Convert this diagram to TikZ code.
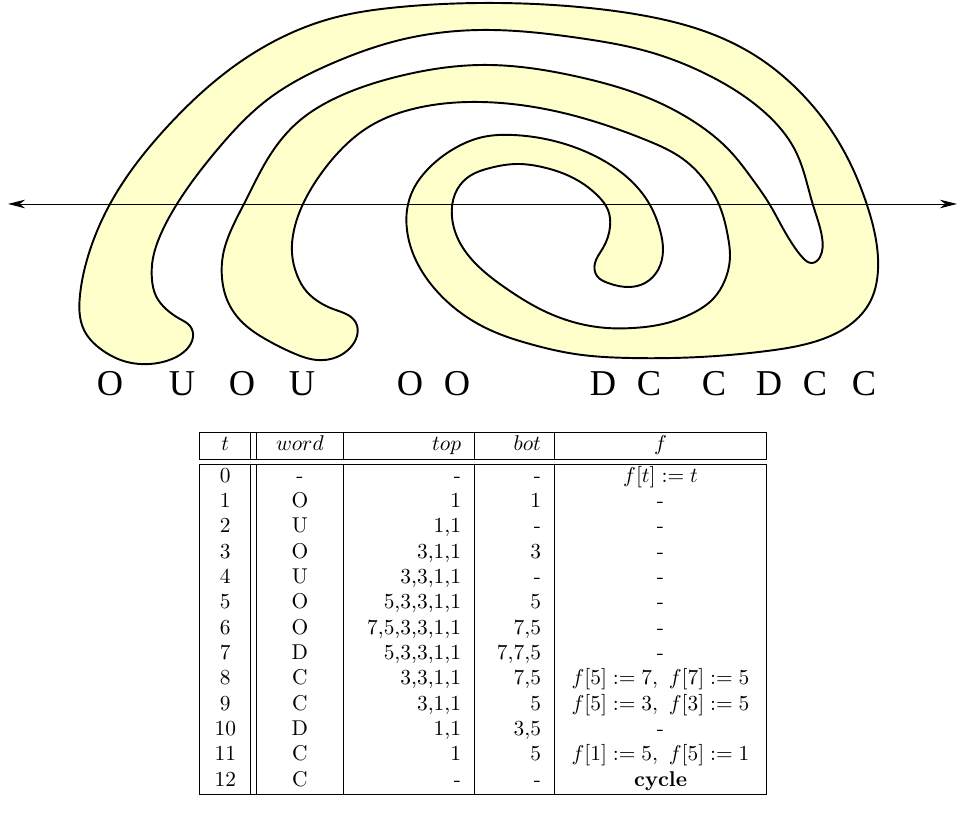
\documentclass[tikz,border=0pt]{standalone}
\usepackage{fontspec}
\usepackage{array}
\usetikzlibrary{arrows.meta,hobby}
\newfontfamily\letterfont{Liberation Serif}
\definecolor{bandyellow}{RGB}{255,255,204}
\tikzset{
  band/.style={fill=bandyellow, draw=black, line width=0.9pt},
  axisline/.style={{Stealth[length=8pt,width=4pt,inset=2.5pt]}-{Stealth[length=8pt,width=4pt,inset=2.5pt]}, line width=0.45pt},
  wordletter/.style={font=\letterfont\fontsize{17}{20}\selectfont, anchor=base, inner sep=0pt}
}
\begin{document}
\begin{tikzpicture}[x=0.467pt, y=-0.467pt]
	\useasboundingbox (0,0) rectangle (959,814);
	% Closed curve
	\draw[band] plot[closed hobby] coordinates {
		(480,3) (400,7) (333,18) (233,67) (167,127) (110,204) (90,250) (80,295)
		(84,330) (102,350) (127,362) (150,364) (172,359) (187,349) (193,337) (190,326)
		(180,319) (166,309) (156,296) (152,280) (153,258) (160,236) (177,204) (217,150)
		(267,100) (333,63) (400,40) (480,30) (579,38) (646,51) (712,77) (762,110)
		(796,152) (813,205) (822,237) (820,257) (812,263) (803,258) (793,245) (780,223)
		(770,205) (753,180) (729,150) (696,123) (646,97) (579,77) (480,65) (400,76)
		(340,96) (298,122) (267,160) (246,200) (232,228) (223,255) (222,278) (228,302)
		(243,323) (267,340) (293,353) (317,360) (337,357) (350,348) (357,336) (356,323)
		(348,315) (333,309) (319,302) (307,292) (297,275) (292,253) (294,230) (303,204)
		(318,178) (336,155) (367,128) (417,108) (480,102) (579,117) (646,140) (683,159)
		(708,185) (720,207) (728,237) (730,255) (725,280) (713,299) (693,313) (667,323)
		(633,328) (607,328) (573,322) (540,309) (507,289) (476,264) (459,241) (452,217)
		(455,194) (467,178) (490,168) (517,164) (542,167) (577,180) (598,196) (608,210)
		(610,227) (603,248) (595,263) (597,276) (608,283) (630,287) (645,283) (658,270)
		(663,250) (660,230) (650,205) (628,178) (595,156) (550,140) (513,135) (483,137)
		(457,147) (430,167) (413,190) (407,210) (407,230) (414,256) (430,283) (457,310)
		(490,330) (530,344) (575,354) (630,358) (700,357) (767,351) (817,341) (851,324)
		(870,302) (878,270) (876,240) (867,205) (852,167) (829,127) (796,88) (762,60)
		(712,34) (646,16) (579,7)
	};
	% Line
	\coordinate (lineL) at (8,204);
	\coordinate (lineR) at (957,204);
	\draw[axisline] (lineL) -- (lineR);
	% Letters
	\foreach \x/\l [count=\i] in {110/O,182/U,242/O,302/U,410/O,457/O,603/D,649/C,714/C,769/D,815/C,864/C} {
			\node[wordletter] (letter\i) at (\x,396) {\l};
		}
	% Table
	\renewcommand{\arraystretch}{0.985}
	\node[anchor=north west, inner sep=0pt] (trace) at (199,432) {%
		\begin{tabular}{|w{c}{11.4pt}||w{c}{28.6pt}|w{r}{48.6pt}|w{r}{24.9pt}|w{c}{86.9pt}|}
			\hline
			$t$ & $word$ & $top$ & $bot$ & $f$ \\
			\hline\hline
			0  & - & -          & -     & $f[t] := t$ \\
			1  & O & 1          & 1     & - \\
			2  & U & 1,1        & -     & - \\
			3  & O & 3,1,1      & 3     & - \\
			4  & U & 3,3,1,1    & -     & - \\
			5  & O & 5,3,3,1,1  & 5     & - \\
			6  & O & 7,5,3,3,1,1 & 7,5  & - \\
			7  & D & 5,3,3,1,1  & 7,7,5 & - \\
			8  & C & 3,3,1,1    & 7,5   & $f[5] := 7,\ f[7] := 5$ \\
			9  & C & 3,1,1      & 5     & $f[5] := 3,\ f[3] := 5$ \\
			10 & D & 1,1        & 3,5   & - \\
			11 & C & 1          & 5     & $f[1] := 5,\ f[5] := 1$ \\
			12 & C & -          & -     & \textbf{cycle} \\
			\hline
		\end{tabular}};
\end{tikzpicture}
\end{document}
